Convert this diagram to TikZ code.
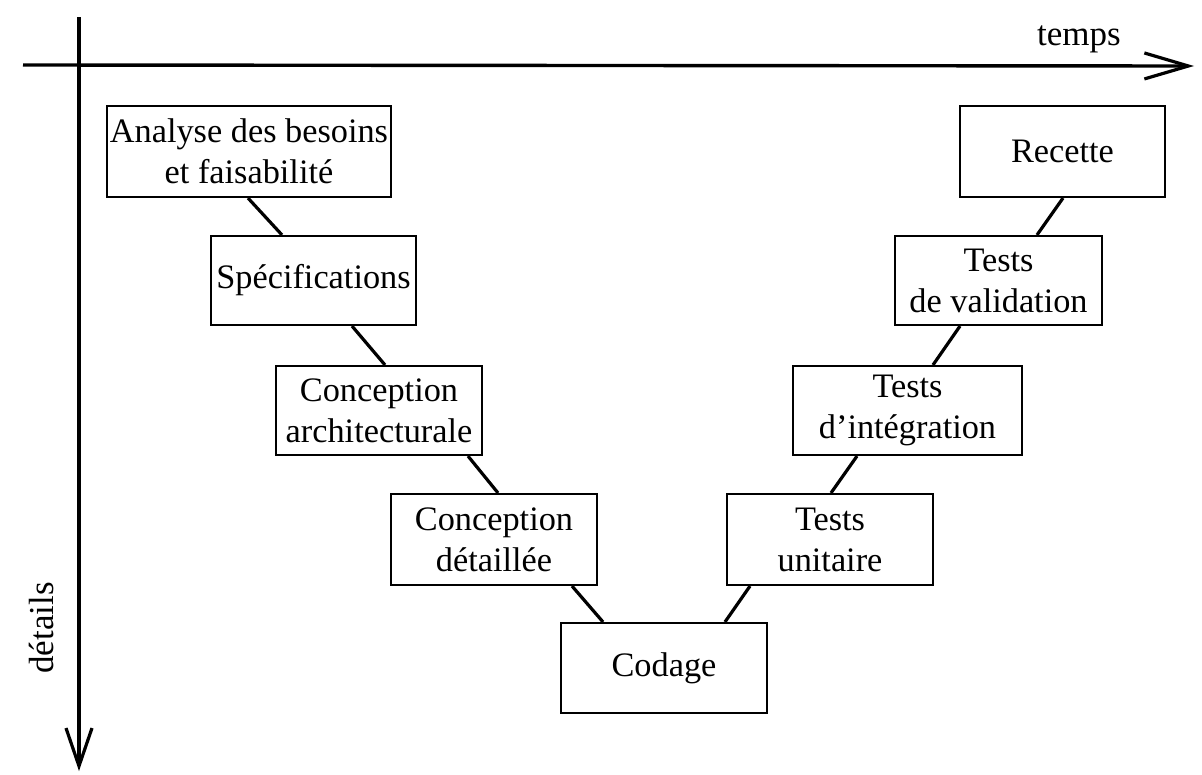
\documentclass[tikz,border=0pt]{standalone}
\usepackage{fontspec}
\setmainfont{Liberation Serif}
\usetikzlibrary{arrows.meta}
\begin{document}
\begin{tikzpicture}[x=1pt,y=-1pt,
  phase/.style={draw=black, line width=2.1pt, rectangle, inner sep=0pt, align=center,
    font=\fontsize{34.3}{41}\selectfont},
  link/.style={line width=3.2pt},
  axis/.style={line width=3.4pt},
  lbl/.style={font=\fontsize{35}{41}\selectfont, inner sep=0pt}]
\useasboundingbox[fill=white] (0,0) rectangle (1202,774);

\node[phase, minimum width=284pt, minimum height=91pt] (ana) at (249,151.5) {Analyse des besoins\\et faisabilité};
\node[phase, minimum width=205pt, minimum height=89pt] (spe) at (313.5,280.5) {Spécifications};
\node[phase, minimum width=206pt, minimum height=89pt] (arc) at (379,410.5) {Conception\\architecturale};
\node[phase, minimum width=206pt, minimum height=91pt] (det) at (494,539.5) {Conception\\détaillée};
\node[phase, minimum width=206pt, minimum height=90pt] (cod) at (664,668) {Codage};
\node[phase, minimum width=206pt, minimum height=91pt] (tun) at (830,539.5) {Tests\\unitaire};
\node[phase, minimum width=229pt, minimum height=89pt] (tin) at (907.5,410.5) {Tests\\d’intégration};
\node[phase, minimum width=207pt, minimum height=89pt] (tva) at (998.5,280.5) {Tests\\de validation};
\node[phase, minimum width=205pt, minimum height=91pt] (rec) at (1062.5,151.5) {Recette};

\draw[link] ([xshift=-1pt]ana.south) -- ([xshift=-31.5pt]spe.north);
\draw[link] ([xshift=38.5pt]spe.south) -- ([xshift=6pt]arc.north);
\draw[link] ([xshift=89pt]arc.south) -- ([xshift=4pt]det.north);
\draw[link] ([xshift=78pt]det.south) -- ([xshift=-61pt]cod.north);
\draw[link] ([xshift=61pt]cod.north) -- ([xshift=-80pt]tun.south);
\draw[link] ([xshift=1pt]tun.north) -- ([xshift=-50.5pt]tin.south);
\draw[link] ([xshift=25.5pt]tin.north) -- ([xshift=-38.5pt]tva.south);
\draw[link] ([xshift=38.5pt]tva.north) -- ([xshift=0.5pt]rec.south);

\coordinate (hx0) at (23,65);
\coordinate (hx1) at (1194,66);
\coordinate (vy0) at (79,17);
\coordinate (vy1) at (79,771);
\draw[axis, -{Straight Barb[length=44pt,width=26pt,line width=3.2pt]}] (hx0) -- (hx1);
\draw[axis, -{Straight Barb[length=38pt,width=26pt,line width=3.2pt]}] (vy0) -- (vy1);

\node[lbl, anchor=base] (temps) at (1079,45) {temps};
\node[lbl, anchor=base, rotate=90] (details) at (53,628) {détails};
\end{tikzpicture}
\end{document}
